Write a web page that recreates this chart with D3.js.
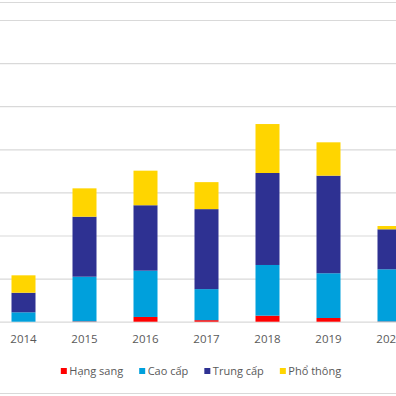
<!DOCTYPE html>
<html>
<head>
<meta charset="utf-8">
<script src="https://cdn.jsdelivr.net/npm/d3@7"></script>
<style>
  html, body { margin: 0; padding: 0; background: #fff; }
  svg text { font-family: "Open Sans", "Noto Sans", sans-serif; fill: #595959; }
</style>
</head>
<body>
<svg id="chart" width="396" height="396"></svg>
<script>
var years = ['2014', '2015', '2016', '2017', '2018', '2019', '2020'];
var segments = ['Hạng sang', 'Cao cấp', 'Trung cấp', 'Phổ thông'];
var colors = ['#ff0000', '#00a0dc', '#2e3192', '#ffd500'];

// values (one gridline = 50)
var hangSang  = [0,    0.4,  5.5,  1.8,   7,     4.3,   0.3];
var caoCap    = [10.9, 51.8, 53.7, 36,    58.8,  51.9,  60.5];
var trungCap  = [22.7, 69.6, 75.9, 92.8,  106.7, 113.2, 46.4];
var phoThong  = [20.2, 32.9, 40.1, 31.3,  56.8,  38.7,  3.8];
var yTicks = [0, 50, 100, 150, 200, 250, 300, 350];

var rows = years.map(function (y, i) {
  return { year: y, 'Hạng sang': hangSang[i], 'Cao cấp': caoCap[i], 'Trung cấp': trungCap[i], 'Phổ thông': phoThong[i] };
});

var svg = d3.select('#chart'),
  width = 396,
  baseline = 321.7,
  plotTop = 20;

var x = d3.scaleBand().domain(years).range([-7, 420])
  .paddingInner(0.6066).paddingOuter(0.3033);
var y = d3.scaleLinear().domain([0, 350]).range([baseline, plotTop]);
var color = d3.scaleOrdinal().domain(segments).range(colors);

// chart frame lines
svg.append('line')
  .attr('x1', 0).attr('x2', width).attr('y1', 2.5).attr('y2', 2.5)
  .attr('stroke', '#d9d9d9').attr('stroke-width', 1);
svg.append('line')
  .attr('x1', 0).attr('x2', width).attr('y1', 393.5).attr('y2', 393.5)
  .attr('stroke', '#d9d9d9').attr('stroke-width', 1);

// gridlines
svg.append('g')
  .attr('class', 'grid')
  .call(d3.axisLeft(y).tickValues(yTicks).tickSize(-width * 2).tickFormat(''))
  .call(function (g) { g.select('.domain').remove(); })
  .selectAll('line')
  .attr('stroke', '#d9d9d9')
  .attr('stroke-width', 1.2);

// stacked bars
var stack = d3.stack().keys(segments)(rows);
svg.append('g').selectAll('g')
  .data(stack)
  .enter().append('g')
  .attr('fill', function (d) { return color(d.key); })
  .selectAll('rect')
  .data(function (d) { return d; })
  .enter().append('rect')
  .attr('x', function (d) { return x(d.data.year); })
  .attr('width', x.bandwidth())
  .attr('y', function (d) { return y(d[1]); })
  .attr('height', function (d) { return y(d[0]) - y(d[1]); });

// x axis labels
var xAxis = svg.append('g')
  .attr('transform', 'translate(0,' + baseline + ')')
  .call(d3.axisBottom(x).tickSize(0).tickPadding(13));
xAxis.select('.domain').remove();
xAxis.selectAll('text')
  .attr('font-size', 11.5)
  .style('font-family', '"Open Sans", sans-serif')
  .attr('fill', '#595959');

// legend
var legend = svg.append('g').attr('class', 'legend');
var items = legend.selectAll('g')
  .data(segments)
  .enter().append('g');
items.append('rect')
  .attr('width', 6).attr('height', 6)
  .attr('y', -3)
  .attr('fill', function (d) { return color(d); });
items.append('text')
  .attr('x', 8.5)
  .attr('dy', '0.35em')
  .attr('font-size', 11)
  .text(function (d) { return d; });

var offset = 0;
items.each(function () {
  var w = this.querySelector('text').getComputedTextLength();
  d3.select(this).attr('transform', 'translate(' + offset + ',0)');
  offset += 8.5 + w + 16;
});
var total = offset - 16;
legend.attr('transform', 'translate(' + (201 - total / 2) + ',371)');
</script>
</body>
</html>
